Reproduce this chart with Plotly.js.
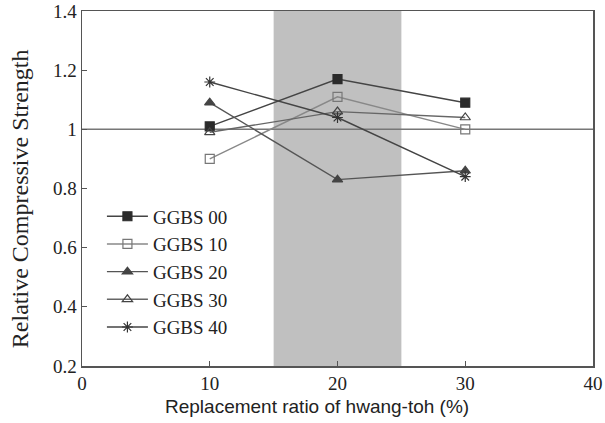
<!DOCTYPE html>
<html>
<head>
<meta charset="utf-8">
<script src="https://cdn.plot.ly/plotly-3.0.1.min.js"></script>
<style>html,body{margin:0;padding:0;background:#fff;}#chart{width:605px;height:423px;}</style>
</head>
<body>
<div id="chart"></div>
<script>
// Replacement ratio of hwang-toh (%)
const ratios = [10, 20, 30];

// Relative compressive strength for each GGBS content
const ggbs00 = [1.01, 1.17, 1.09];
const ggbs10 = [0.90, 1.11, 1.00];
const ggbs20 = [1.09, 0.83, 0.86];
const ggbs30 = [0.99, 1.06, 1.04];
const ggbs40 = [1.16, 1.04, 0.84];

const seriesNames = ['GGBS 00', 'GGBS 10', 'GGBS 20', 'GGBS 30', 'GGBS 40'];
const seriesValues = [ggbs00, ggbs10, ggbs20, ggbs30, ggbs40];

// Highlighted range and reference level
const bandRange = [15, 25];
const referenceLevel = 1;

const xTitle = 'Replacement ratio of hwang-toh (%)';
const yTitle = 'Relative Compressive Strength';

const styles = [
  {symbol: 'square', color: '#2b2b2b', line: '#444'},
  {symbol: 'square-open', color: '#777', line: '#888'},
  {symbol: 'triangle-up', color: '#444', line: '#555'},
  {symbol: 'triangle-up-open', color: '#444', line: '#666'},
  {symbol: 'asterisk-open', color: '#333', line: '#444'}
];

const traces = seriesNames.map((name, i) => {
  const s = styles[i];
  return {
    x: ratios,
    y: seriesValues[i],
    name: name,
    type: 'scatter',
    mode: 'lines+markers',
    line: {color: s.line, width: 1.4},
    marker: {
      symbol: s.symbol,
      size: 9,
      color: s.color,
      line: {color: s.color, width: 1.2}
    }
  };
});

const serif = 'Liberation Serif, Times New Roman, serif';
const sans = 'Liberation Sans, Arial, sans-serif';

const layout = {
  width: 605,
  height: 423,
  margin: {l: 82, r: 12, t: 11, b: 57},
  paper_bgcolor: '#fff',
  plot_bgcolor: '#fff',
  showlegend: true,
  legend: {
    x: 0.039, y: 0.475, xanchor: 'left', yanchor: 'top',
    bgcolor: 'rgba(0,0,0,0)',
    font: {family: serif, size: 19, color: '#222'},
    tracegroupgap: 0,
    itemwidth: 41
  },
  xaxis: {
    range: [0, 40],
    tickvals: [0, 10, 20, 30, 40],
    ticks: 'inside', ticklen: 5, tickcolor: '#555',
    showline: true, linecolor: '#555', linewidth: 1.5, mirror: true,
    showgrid: false, zeroline: false,
    tickfont: {family: serif, size: 19, color: '#222'}
  },
  yaxis: {
    range: [0.2, 1.4],
    tickvals: [0.2, 0.4, 0.6, 0.8, 1, 1.2, 1.4],
    ticktext: ['0.2', '0.4', '0.6', '0.8', '1', '1.2', '1.4'],
    ticks: 'inside', ticklen: 5, tickcolor: '#555',
    showline: true, linecolor: '#555', linewidth: 1.5, mirror: true,
    showgrid: false, zeroline: false,
    tickfont: {family: serif, size: 19, color: '#222'}
  },
  annotations: [
    {text: xTitle, xref: 'paper', yref: 'paper', x: 0.46, y: 0, xanchor: 'center', yanchor: 'top',
     yshift: -28, showarrow: false, font: {family: sans, size: 19, color: '#222'}},
    {text: yTitle, xref: 'paper', yref: 'paper', x: 0, y: 0.47, xanchor: 'center', yanchor: 'middle',
     xshift: -62, textangle: -90, showarrow: false, font: {family: serif, size: 24, color: '#222'}}
  ],
  shapes: [
    {type: 'rect', xref: 'x', yref: 'paper', x0: bandRange[0], x1: bandRange[1], y0: 0, y1: 1,
     fillcolor: '#c0c0c0', line: {width: 0}, layer: 'below'},
    {type: 'line', xref: 'paper', yref: 'y', x0: 0, x1: 1, y0: referenceLevel, y1: referenceLevel,
     line: {color: '#777', width: 1.5}, layer: 'below'}
  ]
};

Plotly.newPlot('chart', traces, layout, {displayModeBar: false, staticPlot: true});
</script>
</body>
</html>
